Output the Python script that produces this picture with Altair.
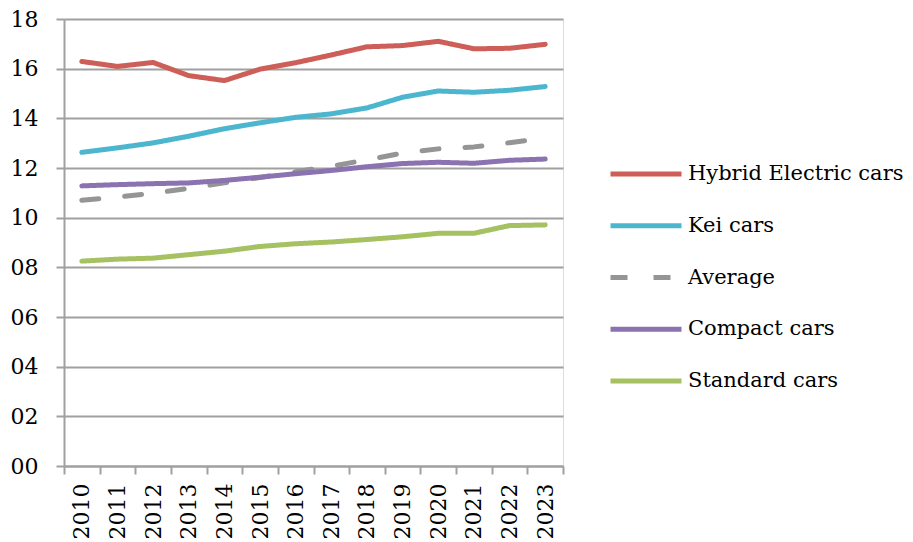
import altair as alt
import pandas as pd

years = [str(y) for y in range(2010, 2024)]
series_names = ["Hybrid Electric cars", "Kei cars", "Average", "Compact cars", "Standard cars"]
hybrid = [16.29, 16.09, 16.25, 15.72, 15.52, 15.98, 16.24, 16.55, 16.88, 16.93, 17.10, 16.80, 16.82, 16.98]
kei = [12.63, 12.81, 13.01, 13.28, 13.58, 13.82, 14.04, 14.18, 14.42, 14.85, 15.10, 15.05, 15.13, 15.28]
average = [10.70, 10.83, 10.98, 11.18, 11.40, 11.62, 11.85, 12.07, 12.33, 12.60, 12.77, 12.85, 13.02, 13.20]
compact = [11.28, 11.33, 11.37, 11.40, 11.50, 11.63, 11.77, 11.90, 12.05, 12.18, 12.23, 12.19, 12.31, 12.36]
standard = [8.25, 8.33, 8.37, 8.51, 8.65, 8.84, 8.95, 9.02, 9.12, 9.23, 9.37, 9.37, 9.68, 9.71]

colors = ["#CD5F58", "#4DB6CF", "#959595", "#8B72B0", "#A6C162"]
dashes = [[1, 0], [1, 0], [17, 26], [1, 0], [1, 0]]
y_ticks = [0, 2, 4, 6, 8, 10, 12, 14, 16, 18]

rows = []
for name, vals in zip(series_names, [hybrid, kei, average, compact, standard]):
    for yr, v in zip(years, vals):
        rows.append({"Year": yr, "Series": name, "Value": v})
df = pd.DataFrame(rows)

FONT = "DejaVu Serif"

legend = alt.Legend(
    title=None,
    orient="none",
    legendX=544,
    legendY=135,
    symbolType="stroke",
    symbolSize=5041,
    symbolStrokeWidth=5,
    labelFontSize=21,
    labelFont=FONT,
    labelColor="#000000",
    labelLimit=400,
    clipHeight=40,
    rowPadding=11.75,
    labelOffset=4,
)

chart = (
    alt.Chart(df)
    .mark_line(strokeWidth=5, strokeCap="round", strokeJoin="round")
    .encode(
        x=alt.X(
            "Year:O",
            sort=years,
            scale=alt.Scale(type="band", paddingInner=0, paddingOuter=0),
            axis=alt.Axis(
                title=None,
                labelAngle=-90,
                labelFont=FONT,
                labelFontSize=22,
                labelColor="#000000",
                tickBand="extent",
                tickSize=8,
                tickColor="#A0A0A0",
                tickWidth=2,
                domainColor="#A0A0A0",
                domainWidth=2,
                labelPadding=9,
                grid=False,
            ),
        ),
        y=alt.Y(
            "Value:Q",
            scale=alt.Scale(domain=[0, 18], nice=False, zero=True),
            axis=alt.Axis(
                title=None,
                values=y_ticks,
                format="02d",
                labelFont=FONT,
                labelFontSize=22,
                labelColor="#000000",
                tickSize=8,
                tickColor="#A0A0A0",
                tickWidth=2,
                domainColor="#A0A0A0",
                domainWidth=2,
                gridColor="#A0A0A0",
                gridWidth=2,
                labelPadding=18,
            ),
        ),
        color=alt.Color(
            "Series:N",
            sort=series_names,
            scale=alt.Scale(domain=series_names, range=colors),
            legend=legend,
        ),
        strokeDash=alt.StrokeDash(
            "Series:N",
            sort=series_names,
            scale=alt.Scale(domain=series_names, range=dashes),
            legend=legend,
        ),
        detail="Series:N",
    )
    .properties(
        width=499,
        height=447,
        autosize=alt.AutoSizeParams(type="none"),
        padding={"left": 56, "top": 11, "right": 342, "bottom": 76},
    )
    .configure_view(stroke=None)
    .configure(background="white")
)

chart.save("out.html", embed_options={"renderer": "svg", "actions": False})
